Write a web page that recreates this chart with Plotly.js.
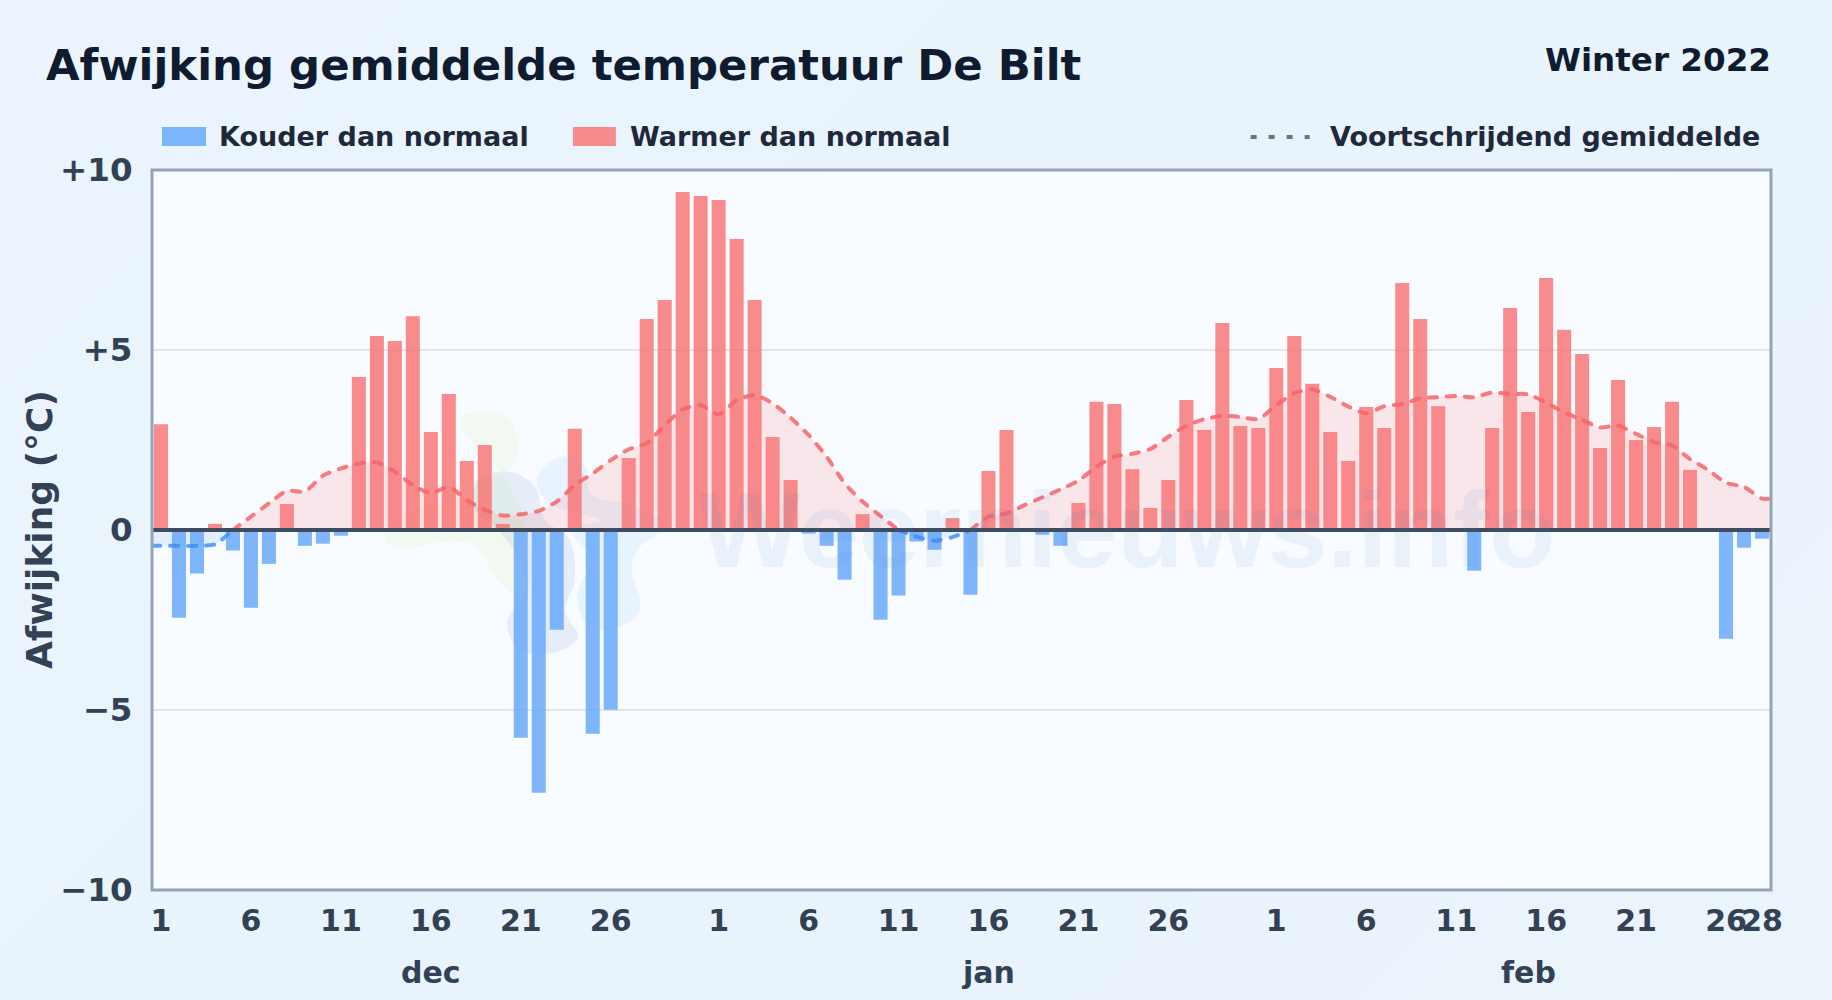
<!DOCTYPE html>
<html lang="nl">
<head>
<meta charset="utf-8">
<title>Afwijking gemiddelde temperatuur De Bilt</title>
<script src="https://cdn.plot.ly/plotly-3.0.1.min.js"></script>
<style>
html,body{margin:0;padding:0;width:1832px;height:1000px;overflow:hidden;background:linear-gradient(135deg,#ecf5fd 0%,#e8f3fc 50%,#ecf4fb 100%);}
#chart{width:1832px;height:1000px;}
.scatterlayer .js-line{stroke-linecap:round;}
</style>
</head>
<body>
<div id="chart"></div>
<script>
const monthNames = ['dec', 'jan', 'feb'];
const monthLengths = [31, 31, 28];
const monthLabelDays = ['16 dec', '16 jan', '15 feb'];
const tickDays = ['1 dec','6 dec','11 dec','16 dec','21 dec','26 dec','1 jan','6 jan','11 jan','16 jan','21 jan','26 jan','1 feb','6 feb','11 feb','16 feb','21 feb','26 feb','28 feb'];
const tickLabels = ['1','6','11','16','21','26','1','6','11','16','21','26','1','6','11','16','21','26','28'];
const yTicks = [10, 5, 0, -5, -10];
const yTickLabels = ['+10', '+5', '0', '−5', '−10'];

const anomalyDec = [2.94,-2.44,-1.21,0.17,-0.57,-2.16,-0.94,0.72,-0.44,-0.38,-0.16,4.25,5.39,5.25,5.94,2.72,3.78,1.92,2.36,0.17,-5.77,-7.3,-2.77,2.81,-5.66,-4.99,2.0,5.86,6.39,9.39,9.28];
const anomalyJan = [9.17,8.08,6.39,2.58,1.39,-0.1,-0.44,-1.38,0.44,-2.49,-1.82,-0.32,-0.55,0.33,-1.8,1.64,2.78,0,-0.13,-0.44,0.75,3.56,3.5,1.69,0.61,1.39,3.61,2.78,5.75,2.89,2.83];
const anomalyFeb = [4.5,5.39,4.06,2.72,1.92,3.42,2.83,6.86,5.86,3.44,0,-1.13,2.83,6.17,3.28,7.0,5.56,4.89,2.28,4.17,2.5,2.86,3.56,1.67,0,-3.02,-0.49,-0.24];

const rollingDec = [-0.44,-0.44,-0.44,-0.40,0,0.37,0.74,1.09,1.07,1.51,1.71,1.85,1.88,1.62,1.25,1.02,1.2,0.83,0.56,0.40,0.44,0.53,0.79,1.25,1.57,1.94,2.24,2.41,2.92,3.35,3.47];
const rollingJan = [3.21,3.61,3.75,3.52,3.12,2.64,2.04,1.30,0.79,0.39,0,-0.19,-0.3,-0.2,0,0.37,0.46,0.69,0.91,1.13,1.37,1.76,2.04,2.12,2.25,2.59,2.9,3.08,3.17,3.14,3.08];
const rollingFeb = [3.47,3.8,3.91,3.7,3.43,3.24,3.44,3.5,3.66,3.69,3.72,3.69,3.82,3.78,3.77,3.54,3.27,3.06,2.85,2.9,2.67,2.44,2.35,1.97,1.67,1.31,1.2,0.87];

const days = [];
monthNames.forEach((m, i) => { for (let d = 1; d <= monthLengths[i]; d++) days.push(d + ' ' + m); });
const dayIndex = days.map((d, i) => i);
const anomaly = anomalyDec.concat(anomalyJan, anomalyFeb);
const rolling = rollingDec.concat(rollingJan, rollingFeb);
const xRange = [-0.5, days.length - 0.5];
// the running mean runs on flat to both plot edges
const rollX = [xRange[0]].concat(dayIndex, [xRange[1]]);
const rollY = [rolling[0]].concat(rolling, [rolling[rolling.length - 1]]);

const W = 1832, H = 1000;
const M = {l: 152, r: 60.5, t: 170, b: 110};
const fx = px => (px - M.l) / (W - M.l - M.r), fy = py => 1 - (py - M.t) / (H - M.t - M.b);
function blob(pts) {
  const n = pts.length; let d = '';
  const p = i => pts[(i + n) % n];
  const c = (x, y) => fx(x).toFixed(5) + ',' + fy(y).toFixed(5);
  d = 'M' + c(pts[0][0], pts[0][1]);
  for (let i = 0; i < n; i++) {
    const a = p(i-1), b = p(i), e = p(i+1), f = p(i+2);
    d += ' C' + c(b[0]+(e[0]-a[0])/6, b[1]+(e[1]-a[1])/6) + ' ' + c(e[0]-(f[0]-b[0])/6, e[1]-(f[1]-b[1])/6) + ' ' + c(e[0], e[1]);
  }
  return d + ' Z';
}
const greenBlob = [[460,425],[482,412],[510,420],[518,450],[505,472],[470,482],[450,500],[405,512],[385,535],[400,548],[450,541],[478,548],[495,577],[515,594],[530,585],[528,530],[505,480]];
const greyBlob = [[480,478],[510,472],[535,487],[545,520],[570,540],[575,580],[565,610],[578,638],[552,653],[520,650],[507,622],[525,592],[520,560],[498,530],[472,505]];
const skyBlob = [[537,478],[560,457],[585,465],[592,495],[630,505],[665,525],[640,547],[632,570],[640,610],[610,630],[585,622],[578,592],[592,560],[572,530],[600,520],[552,505]];
const blobShape = (pts, col) => ({type:'path', xref:'paper', yref:'paper', layer:'below', path: blob(pts), fillcolor: col, line:{width:0}});
const rectPx = (x0,y0,x1,y1,col) => ({type:'rect', xref:'paper', yref:'paper', x0:fx(x0), x1:fx(x1), y0:fy(y0), y1:fy(y1), fillcolor:col, line:{width:0}});

const textDark = '#1e293b', axisText = '#334155';
const F = 'DejaVu Sans, sans-serif';
const label = (text, px, py, size, color, anchor) => ({text, xref:'paper', yref:'paper', x:fx(px), y:fy(py), xanchor:anchor||'left', yanchor:'middle', showarrow:false, font:{family:F, size, color, weight:700}});

const data = [
  {type:'bar', name:'Kouder dan normaal', x:dayIndex, y:anomaly.map(v => v < 0 ? v : null), width:0.78, marker:{color:'#60a5fa', opacity:0.8, line:{width:0}}, hoverinfo:'y'},
  {type:'bar', name:'Warmer dan normaal', x:dayIndex, y:anomaly.map(v => v >= 0 ? v : null), width:0.78, marker:{color:'#f87171', opacity:0.8, line:{width:0}}, hoverinfo:'y'},
  {type:'scatter', mode:'lines', name:'Voortschrijdend gemiddelde', x:rollX, y:rollY.map(v => v <= 0 ? v : null), line:{color:'rgba(59,140,246,0.8)', width:4, dash:'8px,10px', shape:'spline', smoothing:0.6}, fill:'tozeroy', fillcolor:'rgba(96,165,250,0.15)', connectgaps:false, hoverinfo:'y'},
  {type:'scatter', mode:'lines', name:'Voortschrijdend gemiddelde', x:rollX, y:rollY.map(v => v >= 0 ? v : null), line:{color:'rgba(248,100,105,0.85)', width:4, dash:'8px,10px', shape:'spline', smoothing:0.6}, fill:'tozeroy', fillcolor:'rgba(248,113,113,0.15)', connectgaps:false, hoverinfo:'y'}
];

const layout = {
  width:W, height:H, margin:{l:M.l, r:M.r, t:M.t, b:M.b, pad:0},
  paper_bgcolor:'rgba(0,0,0,0)', plot_bgcolor:'#f8fbff',
  barmode:'overlay', showlegend:false, hovermode:'closest',
  title:{text:'Afwijking gemiddelde temperatuur De Bilt', x:46/W, xanchor:'left', xref:'container', y:1-65/H, yanchor:'middle', font:{family:F, size:43.4, color:'#0f1b2e', weight:700}},
  xaxis:{range:xRange, tickmode:'array', tickvals:tickDays.map(d => days.indexOf(d)), ticktext:tickLabels, tickangle:0, showgrid:false, zeroline:false, showline:false, ticks:'outside', ticklen:4, tickcolor:'rgba(0,0,0,0)', tickfont:{family:F, size:30, color:axisText, weight:700}},
  yaxis:{range:[-10,10], tickmode:'array', tickvals:yTicks, ticktext:yTickLabels, showgrid:true, gridcolor:'#e0e5ea', gridwidth:2, zeroline:false, showline:false, ticks:'outside', ticklen:12, tickcolor:'rgba(0,0,0,0)', tickfont:{family:F, size:32.5, color:axisText, weight:700}},
  shapes:[
    blobShape(greenBlob,'rgba(163,230,53,0.07)'),
    blobShape(greyBlob,'rgba(70,120,190,0.10)'),
    blobShape(skyBlob,'rgba(96,180,250,0.11)'),
    {type:'line', xref:'paper', yref:'y', x0:0, x1:1, y0:0, y1:0, layer:'above', line:{color:'#3f4b60', width:4}},
    {type:'rect', xref:'paper', yref:'paper', x0:0, x1:1, y0:0, y1:1, layer:'above', line:{color:'#94a3b8', width:3}, fillcolor:'rgba(0,0,0,0)'},
    rectPx(162,127,206,146,'rgba(96,165,250,0.8)'),
    rectPx(573,127,616,146,'rgba(248,113,113,0.8)'),
    {type:'line', xref:'paper', yref:'paper', x0:fx(1251), x1:fx(1310), y0:fy(137), y1:fy(137), line:{color:'#64748b', width:4, dash:'6px,12px'}}
  ],
  annotations:[
    {text:'Weernieuws.info', xref:'paper', yref:'paper', x:fx(1127), y:fy(529), xanchor:'center', yanchor:'middle', showarrow:false, font:{family:'Liberation Sans, sans-serif', size:108, color:'rgba(59,130,210,0.08)', weight:700}},
    {text:'Afwijking (°C)', xref:'paper', yref:'paper', x:fx(39), y:fy(530), xanchor:'center', yanchor:'middle', textangle:-90, showarrow:false, font:{family:F, size:36, color:axisText, weight:700}},
    label('Winter 2022', 1773.5, 60, 32.6, '#0f1b2e', 'right'),
    label('Kouder dan normaal', 217, 137, 27, textDark),
    label('Warmer dan normaal', 628, 137, 27, textDark),
    label('Voortschrijdend gemiddelde', 1328, 137, 27, textDark)
  ].concat(monthNames.map((m, i) => ({text:m, xref:'x', yref:'paper', x:days.indexOf(monthLabelDays[i]), y:fy(972), xanchor:'center', yanchor:'middle', showarrow:false, font:{family:F, size:30, color:axisText, weight:700}})))
};

Plotly.newPlot('chart', data, layout, {displayModeBar:false, responsive:false});
</script>
</body>
</html>
